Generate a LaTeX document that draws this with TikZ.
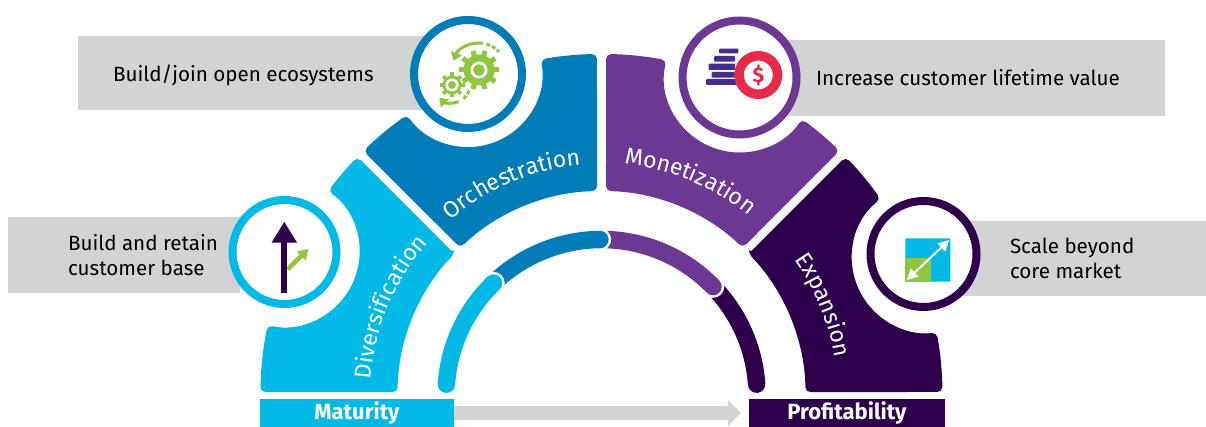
\documentclass[tikz,border=0pt]{standalone}
\usepackage{fontspec}
\setmainfont{Fira Sans}
\usetikzlibrary{arrows.meta,positioning,decorations.text}

\definecolor{divblue}{HTML}{00B9E7}
\definecolor{orchblue}{HTML}{007DB8}
\definecolor{monpurple}{HTML}{6D3794}
\definecolor{expdark}{HTML}{2E004B}
\definecolor{boxgrey}{HTML}{D1D3D4}
\definecolor{icongreen}{HTML}{8DC63F}
\definecolor{coinred}{HTML}{E8294A}
\definecolor{stackblue}{HTML}{452D8C}
\newcommand{\arclabel}{\color{white}\fontsize{23}{23}\selectfont}

\begin{document}
\begin{tikzpicture}[x=1pt,y=1pt]
  \tikzstyle{greybox}=[fill=boxgrey,inner sep=0pt]
  \tikzstyle{boxtext}=[align=left,inner sep=0pt,text=black,font=\fontsize{20.6}{25}\selectfont]
  \tikzstyle{iconring}=[circle,fill=white,line width=8pt,inner sep=0pt]
  \tikzstyle{barnode}=[text=white,inner sep=0pt,minimum height=28pt,font=\bfseries\fontsize{22}{22}\selectfont]
  \tikzstyle{sector}=[rounded corners=5pt]
  \tikzstyle{ringseg}=[draw=white,line width=2.5pt,double distance=17.5pt,line cap=round]
  \tikzstyle{arclabelpath}=[decorate]
  \tikzstyle{gearpart}=[draw=icongreen,line width=5pt]
  \tikzstyle{geararrow}=[draw=icongreen,line width=3pt,-{Triangle[length=8pt,width=11pt]}]
  \tikzstyle{geardash}=[draw=icongreen,line width=3pt,dash pattern=on 4pt off 2pt]
  \tikzstyle{stackbar}=[fill=stackblue,rounded corners=1pt]

  \useasboundingbox (0,0) rectangle (1206,427);

  \node[greybox,minimum width=352pt,minimum height=74pt] (orchbox) at (254,354) {};
  \node[greybox,minimum width=395pt,minimum height=76pt] (monbox)  at (967.5,349) {};
  \node[greybox,minimum width=232pt,minimum height=76pt] (divbox)  at (124,172) {};
  \node[greybox,minimum width=246pt,minimum height=75pt] (expbox)  at (1083,168.5) {};

  \node[boxtext,right=35pt of orchbox.west,yshift=-2pt] (orchtext) {Build/join open ecosystems};
  \node[boxtext,right=46pt of monbox.west]  (montext)  {Increase customer lifetime value};
  \node[boxtext,right=60pt of divbox.west]  (divtext)  {Build and retain\\customer base};
  \node[boxtext,right=50pt of expbox.west]  (exptext)  {Scale beyond\\core market};

  \begin{scope}[shift={(601.5,32)}]
    \fill[sector,divblue] (136.19:204) -- (135.71:341)
      arc[start angle=135.71,end angle=143.27,radius=341pt]
      arc[start angle=54.3,end angle=-102.9,radius=75pt]
      arc[start angle=168.17,end angle=179.5,radius=341pt]
      -- (179.2:204)
      arc[start angle=179.2,end angle=136.19,radius=204pt] -- cycle;
    \fill[sector,orchblue] (91.26:204) -- (90.76:341)
      arc[start angle=90.76,end angle=100.26,radius=341pt]
      arc[start angle=10.6,end angle=-145.52,radius=74pt]
      arc[start angle=124.78,end angle=134.29,radius=341pt]
      -- (133.81:204)
      arc[start angle=133.81,end angle=91.26,radius=204pt] -- cycle;
    \fill[sector,monpurple] (88.74:204) -- (89.24:341)
      arc[start angle=89.24,end angle=79.02,radius=341pt]
      arc[start angle=166.7,end angle=326.3,radius=75pt]
      arc[start angle=54.0,end angle=45.71,radius=341pt]
      -- (46.19:204)
      arc[start angle=46.19,end angle=88.74,radius=204pt] -- cycle;
    \fill[sector,expdark] (43.81:204) -- (44.29:341)
      arc[start angle=44.29,end angle=35.07,radius=341pt]
      arc[start angle=128.2,end angle=277.4,radius=75pt]
      arc[start angle=10.57,end angle=0.5,radius=341pt]
      -- (0.8:204)
      arc[start angle=0.8,end angle=43.81,radius=204pt] -- cycle;

    \path[arclabelpath,decoration={text along path,text align=center,text={|\arclabel|Diversification}}]
      (200:231) arc[start angle=200,end angle=115,radius=231pt];
    \path[arclabelpath,decoration={text along path,text align=center,text={|\arclabel|Orchestration}}]
      (155.5:231) arc[start angle=155.5,end angle=70.5,radius=231pt];
    \path[arclabelpath,decoration={text along path,text align=center,text={|\arclabel|Monetization}}]
      (110:232) arc[start angle=110,end angle=25,radius=232pt];
    \path[arclabelpath,decoration={text along path,text align=center,text={|\arclabel|Expansion}}]
      (64:236) arc[start angle=64,end angle=-20,radius=236pt];

    \draw[ringseg,double=expdark] (4:155.5) arc[start angle=4,end angle=50,radius=155.5pt];
    \draw[ringseg,double=monpurple] (44.2:155.5) arc[start angle=44.2,end angle=95,radius=155.5pt];
    \draw[ringseg,double=orchblue] (90.6:155.5) arc[start angle=90.6,end angle=140,radius=155.5pt];
    \draw[ringseg,double=divblue] (134:155.5) arc[start angle=134,end angle=176,radius=155.5pt];
  \end{scope}

  \node[iconring,draw=divblue,minimum size=104pt]   (divring)  at (284.5,175) {};
  \node[iconring,draw=orchblue,minimum size=108pt]  (orchring) at (468,353) {};
  \node[iconring,draw=monpurple,minimum size=114pt] (monring)  at (739.5,349.5) {};
  \node[iconring,draw=expdark,minimum size=106pt]   (expring)  at (923.5,173) {};

  \coordinate (shaftfoot) at (284.3,134);
  \coordinate (shafttop)  at (284.3,205.3);
  \coordinate (greenfoot) at (287.7,157.7);
  \coordinate (greentip)  at (308.3,178);
  \draw[icongreen,line width=4.5pt,-{Triangle[length=10pt,width=12pt]}] (greenfoot) -- (greentip);
  \draw[expdark,line width=6pt,-{Triangle[length=21pt,width=24pt]}] (shaftfoot) -- (shafttop);

  \coordinate (biggear) at (479,357);
  \coordinate (smallgear) at (452,342);
  \fill[icongreen] (biggear) circle (15.5);
  \foreach \a in {0,36,...,324}
    \draw[gearpart] (biggear) ++(\a:13) -- ++(\a:7);
  \fill[white] (biggear) circle (8.5);
  \fill[icongreen] (biggear) circle (5.7);
  \fill[icongreen] (smallgear) circle (9.5);
  \foreach \a in {0,45,...,315}
    \draw[gearpart,line width=3.5pt] (smallgear) ++(\a:8) -- ++(\a:4.5);
  \fill[white] (smallgear) circle (6.5);
  \fill[icongreen] (smallgear) circle (4);
  \draw[geararrow] (biggear) ++(82:27) arc[start angle=82,end angle=160,radius=27pt];
  \draw[geardash] (biggear) ++(74:27) arc[start angle=74,end angle=42,radius=27pt];
  \draw[geararrow] (smallgear) ++(-68:18) arc[start angle=-68,end angle=-135,radius=18pt];
  \draw[geardash] (smallgear) ++(-50:18) arc[start angle=-50,end angle=-15,radius=18pt];

  \fill[stackbar] (719,378.4) rectangle (738.4,373.7);
  \fill[stackbar] (714,371) rectangle (735,365.3);
  \fill[stackbar] (708.7,363.3) rectangle (735,357);
  \fill[stackbar] (711.7,355) rectangle (735,349.3);
  \fill[stackbar] (706,348) rectangle (741.7,342);
  \node[circle,fill=white,draw=coinred,line width=9.5pt,minimum size=38.5pt,inner sep=0pt,
        text=coinred,font=\bfseries\fontsize{21}{21}\selectfont] (coin) at (758.3,352) {\$};

  \fill[divblue,rounded corners=0.5pt] (905.3,145.3) rectangle (950.3,188.7);
  \fill[icongreen] (905.3,145.3) rectangle (931,169);
  \coordinate (squarefoot) at (906.7,147);
  \coordinate (squaretip)  at (949.3,187);
  \draw[white,line width=2pt,{Triangle[length=11pt,width=11pt]}-{Triangle[length=11pt,width=11pt]}] (squarefoot) -- (squaretip);

  \node[barnode,fill=divblue,minimum width=194pt] (maturity) at (357,14) {Maturity};
  \node[barnode,fill=expdark,minimum width=196pt] (profit)   at (847,14) {Profitability};
  \draw[boxgrey,line width=14pt,shorten >=8pt,-{Triangle[length=13pt,width=26pt]}] (maturity) -- (profit);
\end{tikzpicture}
\end{document}
